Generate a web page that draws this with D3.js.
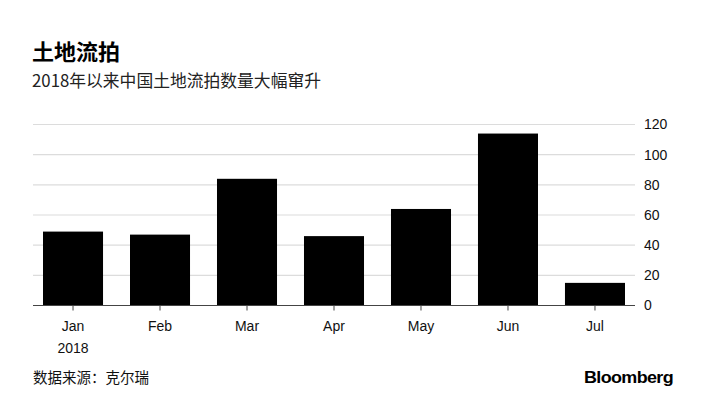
<!DOCTYPE html>
<html>
<head>
<meta charset="utf-8">
<script src="https://cdn.jsdelivr.net/npm/d3@7"></script>
<style>
  body { margin: 0; background: #fff; }
  text { font-family: "Liberation Sans", Arial, "Noto Sans CJK SC", sans-serif; }
  .cjk { font-family: "Noto Sans CJK SC", sans-serif; }
</style>
</head>
<body>
<div id="chart"></div>
<script>
var months = ["Jan", "Feb", "Mar", "Apr", "May", "Jun", "Jul"];
var counts = [49, 47, 84, 46, 64, 114, 15];
var yTicks = [0, 20, 40, 60, 80, 100, 120];

var width = 717, height = 406;
var margin = { left: 33, right: 82, top: 124.5, bottom: 100.5 };
var innerW = width - margin.left - margin.right;
var innerH = height - margin.top - margin.bottom;

var svg = d3.select("#chart").append("svg")
    .attr("width", width)
    .attr("height", height);

// title block
svg.append("text")
    .attr("class", "cjk")
    .attr("x", 32)
    .attr("y", 60)
    .style("font-size", "22px")
    .style("font-weight", "bold")
    .text("土地流拍");

svg.append("text")
    .attr("class", "cjk")
    .attr("x", 32)
    .attr("y", 87)
    .style("font-size", "16.8px")
    .attr("fill", "#222")
    .text("2018年以来中国土地流拍数量大幅窜升");

var g = svg.append("g")
    .attr("transform", "translate(" + margin.left + "," + margin.top + ")");

var x = d3.scaleBand()
    .domain(months)
    .range([0, innerW])
    .paddingInner(0.31)
    .paddingOuter(0.115);

var y = d3.scaleLinear()
    .domain([0, 120])
    .range([innerH, 0]);

// grid + right axis
var yAxis = d3.axisRight(y)
    .tickValues(yTicks)
    .tickSize(0)
    .tickPadding(9);

g.append("g")
    .attr("transform", "translate(" + innerW + ",0)")
    .call(yAxis)
    .call(function(s) {
        s.select(".domain").remove();
        s.selectAll(".tick text")
            .style("font-size", "14px")
            .attr("fill", "#111");
    });

g.selectAll(".grid")
    .data(yTicks.filter(Number))
    .enter().append("line")
    .attr("class", "grid")
    .attr("x1", 0)
    .attr("x2", innerW)
    .attr("y1", function(d) { return y(d); })
    .attr("y2", function(d) { return y(d); })
    .attr("stroke", "#dcdcdc")
    .attr("stroke-width", 1.2);

// bars
g.selectAll(".bar")
    .data(counts)
    .enter().append("rect")
    .attr("class", "bar")
    .attr("x", function(d, i) { return x(months[i]); })
    .attr("width", x.bandwidth())
    .attr("y", function(d) { return y(d); })
    .attr("height", function(d) { return innerH - y(d); })
    .attr("fill", "#000");

// bottom axis
var xAxis = d3.axisBottom(x)
    .tickSize(5)
    .tickPadding(11);

g.append("g")
    .attr("transform", "translate(0," + innerH + ")")
    .call(xAxis)
    .call(function(s) {
        s.select(".domain").remove();
        s.selectAll(".tick line").attr("stroke", "#444");
        s.selectAll(".tick text")
            .style("font-size", "14px")
            .attr("fill", "#111");
    });

g.append("line")
    .attr("x1", 0)
    .attr("x2", innerW)
    .attr("y1", innerH)
    .attr("y2", innerH)
    .attr("stroke", "#444")
    .attr("stroke-width", 1.2);

g.append("text")
    .attr("x", x("Jan") + x.bandwidth() / 2)
    .attr("y", innerH + 47)
    .attr("text-anchor", "middle")
    .style("font-size", "14px")
    .attr("fill", "#111")
    .text("2018");

// footer
svg.append("text")
    .attr("class", "cjk")
    .attr("x", 33)
    .attr("y", 383)
    .style("font-size", "14.5px")
    .attr("fill", "#111")
    .text("数据来源：克尔瑞");

svg.append("text")
    .attr("x", 673)
    .attr("y", 383)
    .attr("text-anchor", "end")
    .style("font-size", "17px")
    .style("font-weight", "bold")
    .style("letter-spacing", "-0.6px")
    .attr("textLength", 89)
    .attr("lengthAdjust", "spacingAndGlyphs")
    .text("Bloomberg");
</script>
</body>
</html>
